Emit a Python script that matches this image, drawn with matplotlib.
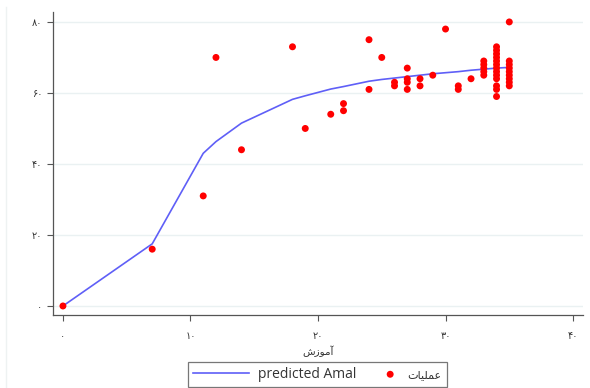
import matplotlib
matplotlib.use("Agg")
import matplotlib.pyplot as plt
from matplotlib.legend_handler import HandlerPathCollection

plt.rcParams['font.family'] = ['Open Sans', 'DejaVu Sans']

# data
amoozesh = [0, 7, 11, 12, 14, 18, 19, 21, 22, 22, 24, 24, 25, 26, 26,
            27, 27, 27, 27, 28, 28, 29, 30, 31, 31, 32,
            33, 33, 33, 33, 33,
            34, 34, 34, 34, 34, 34, 34, 34, 34, 34, 34, 34, 34,
            35, 35, 35, 35, 35, 35, 35, 35, 35]
amaliat = [0, 16, 31, 70, 44, 73, 50, 54, 55, 57, 61, 75, 70, 62, 63,
           61, 63, 64, 67, 62, 64, 65, 78, 61, 62, 64,
           65, 66, 67, 68, 69,
           59, 61, 62, 64, 65, 66, 67, 68, 69, 70, 71, 72, 73,
           62, 63, 64, 65, 66, 67, 68, 69, 80]

pred_x = [0, 7, 11, 12, 14, 18, 19, 21, 22, 24, 25, 26, 27, 28, 29, 30,
          31, 32, 33, 34, 35]
pred_y = [0, 17.5, 43, 46.3, 51.5, 58.2, 59.2, 61.1, 61.8, 63.3, 63.8, 64.2,
          64.6, 65.0, 65.4, 65.7, 66.0, 66.4, 66.7, 67.0, 67.2]

x_ticks = [0, 10, 20, 30, 40]
y_ticks = [0, 20, 40, 60, 80]

x_title = 'آموزش'
scatter_label = 'عملیات'
line_label = 'predicted Amal'

# matplotlib does no arabic shaping, so pick the joined forms by hand
FORMS = {
    'آ': ('\uFE81', '\uFE82', None, None),
    'ا': ('\uFE8D', '\uFE8E', None, None),
    'ت': ('\uFE95', '\uFE96', '\uFE97', '\uFE98'),
    'ز': ('\uFEAF', '\uFEB0', None, None),
    'ش': ('\uFEB5', '\uFEB6', '\uFEB7', '\uFEB8'),
    'ع': ('\uFEC9', '\uFECA', '\uFECB', '\uFECC'),
    'ل': ('\uFEDD', '\uFEDE', '\uFEDF', '\uFEE0'),
    'م': ('\uFEE1', '\uFEE2', '\uFEE3', '\uFEE4'),
    'و': ('\uFEED', '\uFEEE', None, None),
    'ی': ('\uFBFC', '\uFBFD', '\uFBFE', '\uFBFF'),
}


def farsi(text):
    out = []
    for i, ch in enumerate(text):
        iso, fin, ini, med = FORMS[ch]
        prev_joins = i > 0 and FORMS[text[i - 1]][2] is not None
        next_joins = ini is not None and i + 1 < len(text)
        if prev_joins and next_joins:
            out.append(med)
        elif prev_joins:
            out.append(fin)
        elif next_joins:
            out.append(ini)
        else:
            out.append(iso)
    return ''.join(reversed(out))


def fa_digits(v):
    return str(v).translate(str.maketrans('0123456789', '۰۱۲۳۴۵۶۷۸۹'))


class DotNearText(HandlerPathCollection):
    # put the legend dot at the right end of its handle box, next to the label
    def get_xdata(self, legend, xdescent, ydescent, width, height, fontsize):
        return [-xdescent, -xdescent + width], [-xdescent + width - 6]


fig = plt.figure(figsize=(5.9, 3.88), dpi=100)
ax = fig.add_axes([53 / 590, 1 - 315 / 388, 530 / 590, 303 / 388])

for yv in y_ticks:
    ax.axhline(yv, color='#eaf1f2', lw=1.0, zorder=0)

line, = ax.plot(pred_x, pred_y, color='#5f5ff7', lw=1.2, zorder=2)
pts = ax.scatter(amoozesh, amaliat, s=25, color='#ff0000', edgecolors='none', zorder=3)

ax.set_xlim(-0.78, 40.78)
ax.set_ylim(-2.54, 82.8)

ax.set_xticks(x_ticks)
ax.set_xticklabels([fa_digits(v) for v in x_ticks])
ax.set_yticks(y_ticks)
ax.set_yticklabels([fa_digits(v) for v in y_ticks])

for s in ['top', 'right']:
    ax.spines[s].set_visible(False)
for s in ['left', 'bottom']:
    ax.spines[s].set_color('#555555')
    ax.spines[s].set_linewidth(0.9)

ax.tick_params(axis='x', length=4.5, width=0.8, color='#555555', pad=7,
               labelsize=7, labelcolor='#333333')
ax.tick_params(axis='y', length=4.5, width=0.8, color='#555555', pad=3,
               labelsize=7, labelcolor='#333333')

ax.set_xlabel(farsi(x_title), fontsize=7.5, color='#333333', labelpad=3)

leg = fig.legend([line, pts], [line_label, farsi(scatter_label)], ncol=2,
                 loc='center', bbox_to_anchor=(0.538, 0.035), fontsize=10,
                 frameon=True, fancybox=False, edgecolor='#555555',
                 handlelength=4.0, columnspacing=-0.95, borderpad=0.35,
                 handletextpad=0.65, scatterpoints=1,
                 handler_map={pts: DotNearText()})
leg.get_frame().set_linewidth(0.9)
for t in leg.get_texts():
    t.set_color('#333333')
leg.get_texts()[1].set_fontsize(8)

# faint border of the graph region on the left
fig.add_artist(plt.Line2D([6 / 590, 6 / 590], [0.0, 1 - 7 / 388],
                          color='#eef2f2', lw=1.0))

fig.savefig('out.png', dpi=100)
